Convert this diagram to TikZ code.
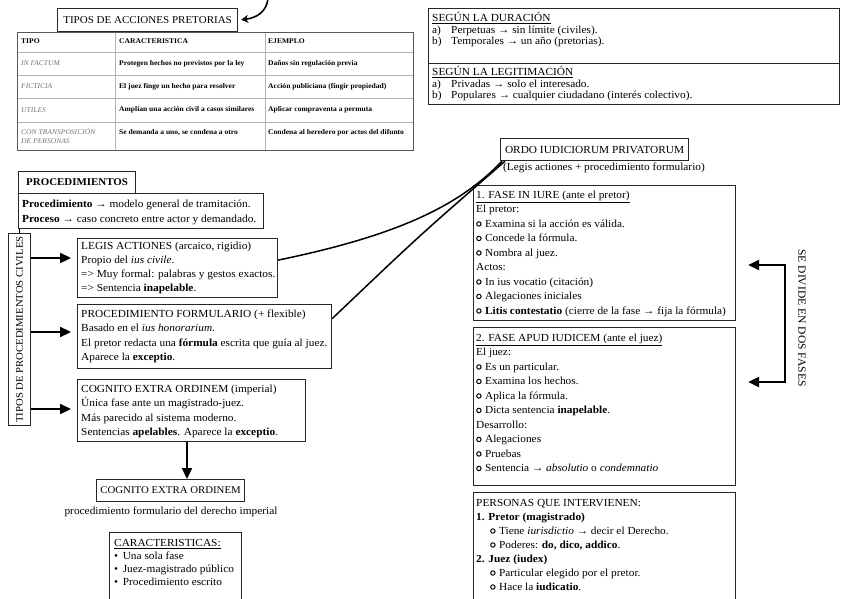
\documentclass[tikz,border=0pt]{standalone}
\usepackage{fontspec}
\setmainfont{Liberation Serif}[FakeStretch=1.05]
\usetikzlibrary{arrows.meta}
\newcommand\obul{\tikz[baseline=-3.4pt]\draw[line width=1pt] (0,0) circle (2.2pt);\hspace{3.5pt}}
\newcommand\itab[1]{\makebox[19pt][l]{#1}}
\begin{document}
\begin{tikzpicture}[x=1pt,y=-1pt,
  font=\fontsize{10.8}{14.5}\selectfont,
  box/.style={draw=black!85, line width=1.2pt, inner sep=0pt, anchor=north west},
  txt/.style={inner sep=0pt, anchor=north west, align=left},
  cell/.style={inner sep=0pt, anchor=west, align=left, font=\fontsize{7.2}{8}\selectfont\bfseries},
  celli/.style={cell, font=\fontsize{7.2}{9}\selectfont\itshape, text=black!55},
  bigarrow/.style={line width=2.3pt, -{Triangle[length=11pt,width=10pt]}},
  conn/.style={line width=1.5pt}]
\useasboundingbox (0,0) rectangle (848,599);

% ---------- top left: tipos de acciones pretorias ----------
\node[box, minimum width=180, minimum height=23, font=\fontsize{10.5}{13}\selectfont] (tipos) at (57,8) {TIPOS DE ACCIONES PRETORIAS};
\coordinate (topin) at (268,-2);
\draw[line width=1.6pt, -{Stealth[length=7pt,width=8pt,inset=2pt]}, shorten >=3pt] (topin) .. controls (267,12) and (256,18) .. (tipos.east);

% table
\draw[black!30, line width=0.6pt]
  (17,52) -- (413,52) (17,75) -- (413,75) (17,98) -- (413,98) (17,122) -- (413,122)
  (115,32) -- (115,150) (265,32) -- (265,150);
\draw[black!65, line width=0.9pt] (17,32) rectangle (413,150);
\node[cell] (h1) at (21,41) {TIPO};
\node[cell] (h2) at (119,41) {CARACTERISTICA};
\node[cell] (h3) at (268,41) {EJEMPLO};
\node[celli] (r1a) at (21,63.5) {IN FACTUM};
\node[cell] (r1b) at (119,63.5) {Protegen hechos no previstos por la ley};
\node[cell] (r1c) at (268,63.5) {Daños sin regulación previa};
\node[celli] (r2a) at (21,86.5) {FICTICIA};
\node[cell] (r2b) at (119,86.5) {El juez finge un hecho para resolver};
\node[cell] (r2c) at (268,86.5) {Acción publiciana (fingir propiedad)};
\node[celli] (r3a) at (21,110) {UTILES};
\node[cell] (r3b) at (119,110) {Amplían una acción civil a casos similares};
\node[cell] (r3c) at (268,110) {Aplicar compraventa a permuta};
\node[celli, anchor=north west] (r4a) at (21,128) {CON TRANSPOSICIÓN\\DE PERSONAS};
\node[cell] (r4b) at (119,133) {Se demanda a uno, se condena a otro};
\node[cell] (r4c) at (268,133) {Condena al heredero por actos del difunto};

% ---------- top right ----------
\node[box, minimum width=411, minimum height=55] (dur) at (428,8) {};
\node[box, minimum width=411, minimum height=41] (leg) at (428,63) {};
\node[txt, font=\fontsize{10.8}{11.5}\selectfont] (durt) at (432,12.2)
  {\strut\underline{SEGÚN LA DURACIÓN}\\
   \strut\itab{a)}Perpetuas → sin límite (civiles).\\
   \strut\itab{b)}Temporales → un año (pretorias).};
\node[txt, font=\fontsize{10.8}{11.5}\selectfont] (legt) at (432,66.2)
  {\strut\underline{SEGÚN LA LEGITIMACIÓN}\\
   \strut\itab{a)}Privadas → solo el interesado.\\
   \strut\itab{b)}Populares → cualquier ciudadano (interés colectivo).};

% ---------- procedimientos ----------
\node[box, minimum width=117, minimum height=22, font=\fontsize{10.4}{13}\selectfont\bfseries] (proc) at (18,171) {PROCEDIMIENTOS};
\node[box, minimum width=245, minimum height=35] (def) at (18,193) {};
\node[txt, font=\fontsize{10.8}{15}\selectfont] (deft) at (22,196.7)
  {\strut\textbf{Procedimiento} → modelo general de tramitación.\\
   \strut\textbf{Proceso} → caso concreto entre actor y demandado.};

\node[box, minimum width=22, minimum height=192] (vert) at (8,233) {};
\node[rotate=90, font=\fontsize{10.2}{12}\selectfont] (vertt) at (vert.center) {TIPOS DE PROCEDIMIENTOS CIVILES};
\draw[line width=1.2pt] (def.south west -| vert.north) -- (vert.north);

\node[box, minimum width=200, minimum height=59] (legis) at (77,238) {};
\node[txt, font=\fontsize{10.8}{14}\selectfont] (legist) at (81,239.4)
  {\strut LEGIS ACTIONES (arcaico, rigidio)\\
   \strut Propio del \textit{ius civile}.\\
   \strut => Muy formal: palabras y gestos exactos.\\
   \strut => Sentencia \textbf{inapelable}.};

\node[box, minimum width=254, minimum height=64] (form) at (77,304) {};
\node[txt] (formt) at (81,307)
  {\strut PROCEDIMIENTO FORMULARIO (+ flexible)\\
   \strut Basado en el \textit{ius honorarium}.\\
   \strut El pretor redacta una \textbf{fórmula} escrita que guía al juez.\\
   \strut Aparece la \textbf{exceptio}.};

\node[box, minimum width=228, minimum height=62] (cog) at (77,379) {};
\node[txt] (cogt) at (81,382)
  {\strut COGNITO EXTRA ORDINEM (imperial)\\
   \strut Única fase ante un magistrado-juez.\\
   \strut Más parecido al sistema moderno.\\
   \strut Sentencias \textbf{apelables}. Aparece la \textbf{exceptio}.};

\coordinate (a1) at (0,258);
\coordinate (a2) at (0,332);
\coordinate (a3) at (0,409);
\draw[bigarrow, shorten >=6pt] (vert.east |- a1) -- (legis.west |- a1);
\draw[bigarrow, shorten >=6pt] (vert.east |- a2) -- (form.west |- a2);
\draw[bigarrow, shorten >=6pt] (vert.east |- a3) -- (cog.west |- a3);

\node[box, minimum width=148, minimum height=22, font=\fontsize{10.3}{13}\selectfont] (cog2) at (96,479) {COGNITO EXTRA ORDINEM};
\coordinate (a4) at (187,0);
\draw[bigarrow] (cog.south -| a4) -- (cog2.north -| a4);
\node (cogsub) at (171,512) {procedimiento formulario del derecho imperial};

\node[box, minimum width=132, minimum height=80] (carac) at (109,532) {};
\node[txt, font=\fontsize{10.8}{13}\selectfont] (caract) at (114,537)
  {\strut\underline{CARACTERISTICAS:}\\
   \strut• \,Una sola fase\\
   \strut• \,Juez-magistrado público\\
   \strut• \,Procedimiento escrito};

% ---------- right column ----------
\node[box, minimum width=188, minimum height=22] (ordo) at (500,138) {ORDO IUDICIORUM PRIVATORUM};
\node[txt] (ordosub) at (503,160) {\strut(Legis actiones + procedimiento formulario)};

\node[box, minimum width=262, minimum height=135] (iure) at (473,185) {};
\node[txt] (iuret) at (476,188)
  {\strut\underline{1. FASE IN IURE (ante el pretor)}\\
   \strut El pretor:\\
   \strut\obul Examina si la acción es válida.\\
   \strut\obul Concede la fórmula.\\
   \strut\obul Nombra al juez.\\
   \strut Actos:\\
   \strut\obul In ius vocatio (citación)\\
   \strut\obul Alegaciones iniciales\\
   \strut\obul \textbf{Litis contestatio} (cierre de la fase → fija la fórmula)};

\node[box, minimum width=262, minimum height=158] (apud) at (473,327) {};
\node[txt] (apudt) at (476,331)
  {\strut\underline{2. FASE APUD IUDICEM (ante el juez)}\\
   \strut El juez:\\
   \strut\obul Es un particular.\\
   \strut\obul Examina los hechos.\\
   \strut\obul Aplica la fórmula.\\
   \strut\obul Dicta sentencia \textbf{inapelable}.\\
   \strut Desarrollo:\\
   \strut\obul Alegaciones\\
   \strut\obul Pruebas\\
   \strut\obul Sentencia → \textit{absolutio} o \textit{condemnatio}};

\node[box, minimum width=262, minimum height=130] (pers) at (473,492) {};
\node[txt, font=\fontsize{10.8}{14}\selectfont] (perst) at (476,496.4)
  {\strut PERSONAS QUE INTERVIENEN:\\
   \strut\textbf{1. Pretor (magistrado)}\\
   \strut\hspace{14pt}\obul Tiene \textit{iurisdictio} → decir el Derecho.\\
   \strut\hspace{14pt}\obul Poderes: \textbf{do, dico, addico}.\\
   \strut\textbf{2. Juez (iudex)}\\
   \strut\hspace{14pt}\obul Particular elegido por el pretor.\\
   \strut\hspace{14pt}\obul Hace la \textbf{iudicatio}.};

% bracket "se divide en dos fases"
\coordinate (b1) at (785,265);
\coordinate (b2) at (785,382);
\draw[line width=2.3pt, {Triangle[length=11pt,width=10pt]}-{Triangle[length=11pt,width=10pt]}, shorten <=12pt, shorten >=12pt]
  (iure.east |- b1) -- (b1) -- (b2) -- (apud.east |- b2);
\node[rotate=-90, font=\fontsize{11}{13}\selectfont] (divt) at (802,318) {SE DIVIDE EN DOS FASES};

% connectors to ordo
\draw[conn] ([yshift=8pt]legis.east) .. controls (400,235) and (460,205) .. ([xshift=2pt]ordo.south west);
\draw[conn] ([yshift=18pt]form.east) .. controls (420,235) .. ([xshift=5pt]ordo.south west);
\end{tikzpicture}
\end{document}
